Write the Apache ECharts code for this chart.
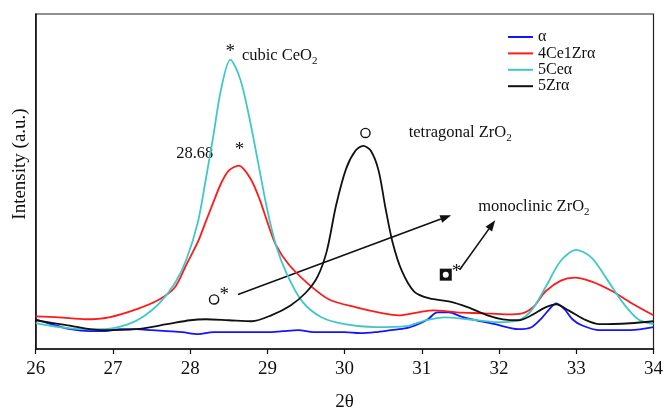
<!DOCTYPE html>
<html><head><meta charset="utf-8">
<script src="https://cdn.jsdelivr.net/npm/echarts@6/dist/echarts.min.js"></script>
<style>html,body{margin:0;padding:0;background:#fff}#c{width:666px;height:417px}</style>
</head><body><div id="c"></div>
<script>
// ---- data ----
const seriesNames = ['α', '4Ce1Zrα', '5Ceα', '5Zrα'];
const xTicks = [26, 27, 28, 29, 30, 31, 32, 33, 34];

const thetaAlpha = [26.0,26.2,26.45,26.7,26.9,27.1,27.3,27.5,27.7,27.9,28.1,28.3,28.5,28.8,29.0,29.2,29.4,29.6,29.8,30.0,30.2,30.4,30.6,30.8,30.95,31.08,31.2,31.35,31.5,31.65,31.95,32.25,32.42,32.55,32.65,32.74,32.85,32.95,33.07,33.3,33.7,34.0];
const intAlpha   = [30,25,20,18,18,20,20,19,18,17,15,17,17,17,17,18,19,17,17,17,16,17,19,21,25,30,37,37,33,30,25,20,22,31,40,46,40,30,24,19,19,22];

const theta4Ce1Zr = [26.0,26.3,26.65,26.95,27.3,27.6,27.8,27.95,28.1,28.2,28.3,28.4,28.5,28.63,28.78,28.9,29.0,29.11,29.28,29.54,29.8,30.15,30.5,30.7,30.95,31.15,31.45,31.8,32.1,32.3,32.45,32.6,32.8,32.98,33.2,33.45,33.7,34.0];
const int4Ce1Zr   = [33,32,30,32,40,50,62,85,108,128,148,167,180,185,172,151,128,105,85,65,50,42,36,34,37,39,37,36,35,36,43,58,69,72,68,59,47,34];

const theta5Ce = [26.0,26.3,26.6,26.9,27.2,27.4,27.6,27.8,27.95,28.1,28.2,28.3,28.4,28.52,28.65,28.77,28.9,29.0,29.11,29.25,29.45,29.7,30.0,30.4,30.8,31.05,31.3,31.6,32.0,32.25,32.42,32.6,32.8,33.0,33.2,33.4,33.6,33.8,34.0];
const int5Ce   = [26,22,20,20,25,33,46,66,90,128,170,215,262,292,272,232,180,140,105,76,48,32,25,22,23,29,32,30,27,29,39,62,89,100,92,70,47,30,25];

const theta5Zr = [26.0,26.4,26.85,27.3,27.7,28.0,28.2,28.5,28.8,29.05,29.3,29.5,29.65,29.77,29.89,30.02,30.14,30.24,30.34,30.44,30.53,30.62,30.74,30.9,31.1,31.35,31.6,31.85,32.05,32.25,32.42,32.6,32.74,32.9,33.1,33.3,33.7,34.0];
const int5Zr   = [29,24,19,20,25,29,30,29,28,34,44,57,73,99,145,182,200,205,200,180,142,108,79,58,51,48,42,34,30,29,34,42,45,39,30,25,26,28];

// annotation anchors in data space (2θ, intensity)
const annoTexts = [
  {t: 28.67, v: 296, txt: 'cubic CeO', sub: '2'},
  {t: 27.82, v: 197, txt: '28.68'},
  {t: 30.83, v: 218, txt: 'tetragonal ZrO', sub: '2'},
  {t: 31.73, v: 144, txt: 'monoclinic ZrO', sub: '2'}
];
const annoStars = [[28.52, 304], [28.64, 205], [28.44, 59], [31.45, 82]];
const annoCircles = [[30.27, 218], [28.31, 50]];
const annoSquares = [[31.31, 75]];
const annoArrows = [[28.62, 55, 31.38, 135], [31.49, 80, 31.95, 130]];

// ---- chart ----
const FONT = '"Liberation Serif","DejaVu Serif",serif';
const colors = ['#1414ff', '#ff1a1a', '#40c8c8', '#111111'];
function pairs(xs, ys) { return xs.map((x, i) => [x, ys[i]]); }
const seriesData = [
  pairs(thetaAlpha, intAlpha),
  pairs(theta4Ce1Zr, int4Ce1Zr),
  pairs(theta5Ce, int5Ce),
  pairs(theta5Zr, int5Zr)
];

const chart = echarts.init(document.getElementById('c'), null, {renderer: 'canvas'});
chart.setOption({
  animation: false,
  backgroundColor: '#fff',
  grid: {left: 35.7, right: 10, top: 14, bottom: 65, show: true, borderColor: '#222', borderWidth: 1.2, backgroundColor: 'transparent'},
  legend: {
    data: seriesNames, orient: 'vertical', left: 508, top: 29, padding: 0,
    icon: 'rect', itemWidth: 25, itemHeight: 2, itemGap: 0.4,
    textStyle: {fontFamily: FONT, fontSize: 16, color: '#111', lineHeight: 15}
  },
  xAxis: {
    type: 'value', min: xTicks[0], max: xTicks[xTicks.length - 1], interval: 1,
    axisLine: {lineStyle: {color: '#111', width: 1.5}},
    axisTick: {show: true, inside: false, length: 5, lineStyle: {color: '#111', width: 1.2}},
    axisLabel: {fontFamily: FONT, fontSize: 19, color: '#111', margin: 11, formatter: v => String(v)},
    splitLine: {show: false},
    name: '2θ', nameLocation: 'middle', nameGap: 44,
    nameTextStyle: {fontFamily: FONT, fontSize: 19, color: '#111'}
  },
  yAxis: {
    type: 'value', min: 0, max: 338,
    axisLine: {show: true, lineStyle: {color: '#111', width: 1.5}},
    axisTick: {show: false}, axisLabel: {show: false}, splitLine: {show: false}
  },
  series: seriesNames.map((n, i) => ({
    name: n, type: 'line', data: seriesData[i], smooth: 0.3, showSymbol: false,
    color: colors[i], lineStyle: {width: 1.8, color: colors[i]}, z: 2 + i
  }))
});

// ---- annotations placed through the grid's coordinate system ----
function px(t, v) { return chart.convertToPixel({gridIndex: 0}, [t, v]); }
const g = [];
g.push({type: 'text', x: 20, y: 164, rotation: Math.PI / 2, style: {text: 'Intensity (a.u.)', fontFamily: FONT, fontSize: 19, fill: '#111', align: 'center', verticalAlign: 'middle'}});
annoTexts.forEach(a => {
  const p = px(a.t, a.v);
  const txt = a.sub ? '{m|' + a.txt + '}{s|' + a.sub + '}' : '{m|' + a.txt + '}';
  g.push({type: 'text', x: p[0], y: p[1], style: {
    text: txt, align: 'left', verticalAlign: 'middle',
    rich: {m: {fontFamily: FONT, fontSize: 16.5, fill: '#111', lineHeight: 22}, s: {fontFamily: FONT, fontSize: 11, fill: '#111', lineHeight: 11, verticalAlign: 'bottom'}}
  }});
});
annoStars.forEach(s => {
  const p = px(s[0], s[1]);
  g.push({type: 'text', x: p[0], y: p[1] + 4.5, style: {text: '*', fontFamily: FONT, fontSize: 19, fill: '#111', align: 'center', verticalAlign: 'middle'}});
});
annoCircles.forEach(c => {
  const p = px(c[0], c[1]);
  g.push({type: 'circle', shape: {cx: p[0], cy: p[1], r: 4.6}, style: {fill: 'none', stroke: '#111', lineWidth: 1.4}});
});
annoSquares.forEach(s => {
  const p = px(s[0], s[1]);
  g.push({type: 'rect', shape: {x: p[0] - 6, y: p[1] - 6, width: 12, height: 12}, style: {fill: '#111'}});
  g.push({type: 'circle', shape: {cx: p[0], cy: p[1], r: 3}, style: {fill: '#fff'}});
});
annoArrows.forEach(a => {
  const p0 = px(a[0], a[1]), p1 = px(a[2], a[3]);
  const ang = Math.atan2(p1[1] - p0[1], p1[0] - p0[0]);
  const L = 11, W = 4;
  const bx = p1[0] - L * Math.cos(ang), by = p1[1] - L * Math.sin(ang);
  g.push({type: 'line', shape: {x1: p0[0], y1: p0[1], x2: bx, y2: by}, style: {stroke: '#111', lineWidth: 1.6}});
  g.push({type: 'polygon', shape: {points: [[p1[0], p1[1]], [bx - W * Math.sin(ang), by + W * Math.cos(ang)], [bx + W * Math.sin(ang), by - W * Math.cos(ang)]]}, style: {fill: '#111'}});
});
chart.setOption({graphic: g});
</script>
</body></html>
